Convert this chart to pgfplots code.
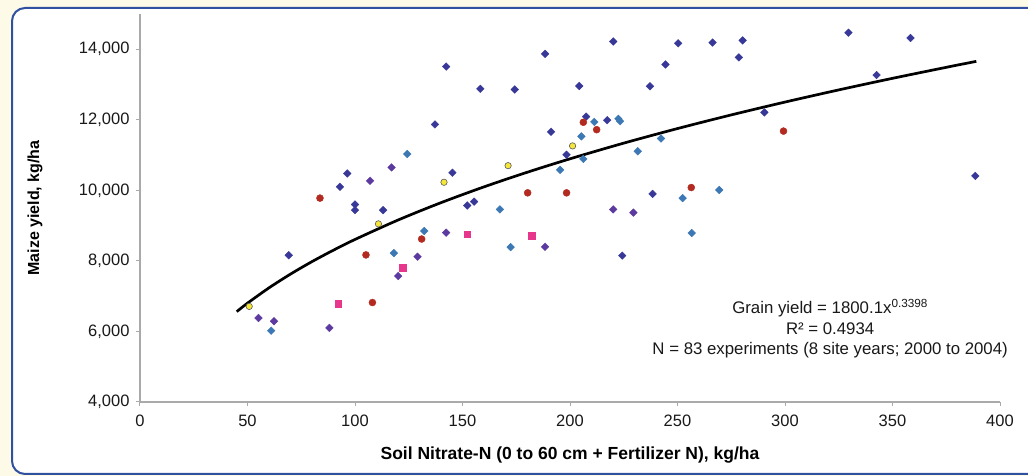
\documentclass[border=0pt]{standalone}
\usepackage{pgfplots}
\pgfplotsset{compat=1.18}
\usepackage{fontspec}
\setmainfont{Liberation Sans}
\definecolor{cream}{RGB}{253,250,232}
\definecolor{panelblue}{RGB}{48,80,160}
\definecolor{navy}{RGB}{56,56,152}
\definecolor{purp}{RGB}{92,58,160}
\definecolor{steel}{RGB}{60,120,180}
\definecolor{dred}{RGB}{178,42,32}
\definecolor{yel}{RGB}{245,230,60}
\definecolor{pink}{RGB}{230,55,140}
\definecolor{axgray}{RGB}{170,170,170}
\begin{document}
\begin{tikzpicture}
\useasboundingbox (0,0) rectangle (1028pt,476pt);
\fill[cream] (0,0) rectangle (1028pt,476pt);
\draw[panelblue, line width=2pt, rounded corners=13pt, fill=white] (12pt,2pt) rectangle (1045pt,468pt);
\begin{axis}[
  at={(140pt,74pt)}, anchor=south west,
  scale only axis, width=860pt, height=388pt,
  xmin=0, xmax=400, ymin=4000, ymax=15000,
  xtick={0,50,...,400}, ytick={4000,6000,...,14000},
  axis x line*=bottom, axis y line*=left,
  axis line style={axgray, line width=1.3pt, -},
  tick align=outside, major tick length=4pt,
  tick style={axgray, line width=1pt},
  scaled y ticks=false,
  /pgf/number format/assume math mode=true,
  /pgf/number format/1000 sep={,},
  ticklabel style={font=\fontsize{16.5}{19}\selectfont, text=black!90},
  xticklabel style={yshift=-5pt},
  yticklabel style={xshift=-3pt},
  xlabel={Soil Nitrate-N (0 to 60 cm + Fertilizer N), kg/ha},
  ylabel={Maize yield, kg/ha},
  xlabel style={font=\bfseries\fontsize{17.5}{20}\selectfont, at={(axis description cs:0.5,-0.137)}, anchor=center},
  ylabel style={font=\bfseries\fontsize{16}{19}\selectfont, at={(axis description cs:-0.122,0.5)}, anchor=center},
  clip=false,
]
% fitted curve
\addplot[black, line width=2.7pt, smooth] coordinates {
(45,6562) (50,6802) (60,7236) (70,7626) (80,7980) (90,8305) (100,8608)
(120,9158) (140,9651) (160,10099) (180,10511) (200,10894) (225,11339)
(250,11752) (275,12139) (300,12503) (325,12848) (350,13176) (375,13488) (389,13658)};
% navy diamonds
\addplot[only marks, mark=square*, mark size=2.7pt, mark options={rotate=45, fill=navy, draw=navy}] coordinates {
(96.4,10480) (93,10100) (100,9600) (100,9440) (69.2,8160) (188.4,13870) (142.4,13510)
(158.3,12880) (174.3,12860) (137.2,11870) (191.2,11660) (198.4,11010) (145.3,10500)
(113.1,9440) (152.2,9570) (155.4,9680) (220.1,14220) (250.3,14170) (266.3,14190)
(280.3,14250) (278.5,13770) (244.4,13570) (204.3,12960) (237.2,12950) (207.5,12090)
(217.3,11990) (290.4,12210) (238.4,9900) (329.5,14470) (358.4,14320) (342.6,13270)
(388.5,10410) (224.3,8150)};
% purple diamonds
\addplot[only marks, mark=square*, mark size=2.7pt, mark options={rotate=45, fill=purp, draw=purp}] coordinates {
(55.1,6380) (62.3,6290) (88.1,6100) (117,10650) (107,10270) (220.1,9460) (229.5,9370)
(142.4,8800) (188.4,8400) (129.1,8120) (120.1,7570)};
% steel blue diamonds
\addplot[only marks, mark=square*, mark size=2.7pt, mark options={rotate=45, fill=steel, draw=steel}] coordinates {
(61,6020) (124.3,11030) (195.4,10580) (167.4,9460) (211.3,11940) (222.5,12030)
(223.3,11960) (205.3,11530) (242.3,11470) (206.2,10890) (231.5,11110) (252.4,9780)
(269.4,10010) (132.2,8850) (172.4,8390) (118.1,8220) (256.6,8790)};
% red circles
\addplot[only marks, mark=*, mark size=3.5pt, mark options={fill=dred, draw=dred}] coordinates {
(83.7,9780) (180.3,9930) (198.4,9930) (206.2,11930) (212.4,11720) (299.3,11680)
(256.4,10080) (131,8620) (105.1,8170) (108.1,6820)};
% yellow circles
\addplot[only marks, mark=*, mark size=3.2pt, mark options={fill=yel, draw=gray!70!black, line width=0.6pt}] coordinates {
(50.8,6710) (171.2,10700) (141.4,10230) (201.2,11260) (110.9,9050)};
% pink squares
\addplot[only marks, mark=square*, mark size=3.2pt, mark options={fill=pink, draw=pink}] coordinates {
(92.3,6790) (152.2,8750) (182.2,8720) (122.2,7810)};
\node[align=center, font=\fontsize{16.8}{20.5}\selectfont, text=black!90] at (axis cs:321,6080)
  {Grain yield = 1800.1x\textsuperscript{0.3398}\\ R² = 0.4934\\ N = 83 experiments (8 site years; 2000 to 2004)};
\end{axis}
\end{tikzpicture}
\end{document}
